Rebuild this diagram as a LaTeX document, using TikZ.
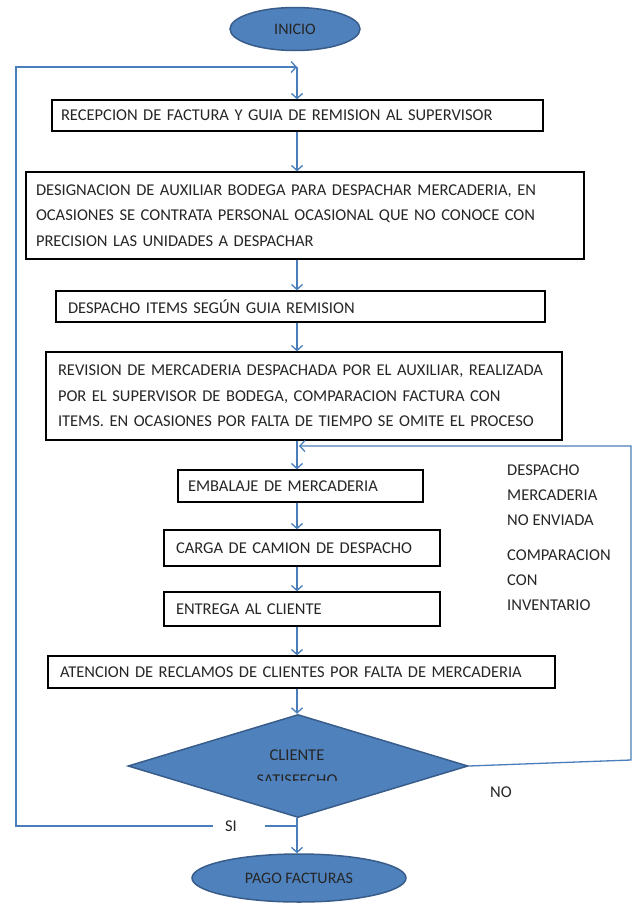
\documentclass[tikz,border=0pt]{standalone}
\usepackage{fontspec}
\setmainfont{Carlito}
\usetikzlibrary{shapes.geometric,arrows.meta}
\definecolor{boxblue}{HTML}{4F81BD}
\definecolor{boxedge}{HTML}{385D8A}
\definecolor{linkblue}{HTML}{4A7EBB}
\tikzset{
	proc/.style = {draw = black, line width = 1.3pt, fill = white, align = left, inner ysep = 0pt, text = black!85, font = \fontsize{16.5}{25.5}\selectfont},
	term/.style = {ellipse, draw = boxedge, line width = 1.5pt, fill = boxblue, inner sep = 0pt, text = black!85, font = \fontsize{16}{18}\selectfont},
	flow/.style = {draw = linkblue, line width = 1.3pt},
	arr/.style = {flow, -{Straight Barb[length=5pt, width=11pt]}},
	lbl/.style = {align = left, inner sep = 0pt, text = black!85, font = \fontsize{16.5}{25}\selectfont}
}
\begin{document}
\begin{tikzpicture}[x = 1pt, y = -1pt]
	\useasboundingbox [fill = white] (0,0) rectangle (633,905);
	% terminals
	\node [term, minimum width = 130pt, minimum height = 43pt] (ini) at (295,29) {INICIO};
	\node [term, minimum width = 214pt, minimum height = 48pt] (pago) at (299,878) {PAGO FACTURAS};
	% process boxes
	\node [proc, inner xsep = 9pt, text width = 473pt, minimum height = 31pt] (recep) at (297.5,115.5) {RECEPCION DE FACTURA Y GUIA DE REMISION AL SUPERVISOR};
	\node [proc, inner xsep = 10pt, text width = 538pt, minimum height = 87pt] (desig) at (305,215.5) {DESIGNACION DE AUXILIAR BODEGA PARA DESPACHAR MERCADERIA, EN\\OCASIONES SE CONTRATA PERSONAL OCASIONAL QUE NO CONOCE CON\\PRECISION LAS UNIDADES A DESPACHAR};
	\node [proc, inner xsep = 12pt, text width = 465pt, minimum height = 31pt] (desp) at (300.5,306.5) {DESPACHO ITEMS SEGÚN GUIA REMISION};
	\node [proc, inner xsep = 12pt, text width = 492pt, minimum height = 88pt] (revis) at (304,396) {REVISION DE MERCADERIA DESPACHADA POR EL AUXILIAR, REALIZADA\\POR EL SUPERVISOR DE BODEGA, COMPARACION FACTURA CON\\ITEMS. EN OCASIONES POR FALTA DE TIEMPO SE OMITE EL PROCESO};
	\node [proc, inner xsep = 10pt, text width = 225pt, minimum height = 32pt] (emb) at (300.5,486) {EMBALAJE DE MERCADERIA};
	\node [proc, inner xsep = 12pt, text width = 252pt, minimum height = 36pt] (carga) at (302,548) {CARGA DE CAMION DE DESPACHO};
	\node [proc, inner xsep = 12pt, text width = 252pt, minimum height = 34pt] (entr) at (302,609) {ENTREGA AL CLIENTE};
	\node [proc, inner xsep = 12pt, text width = 483pt, minimum height = 32pt] (recl) at (301.5,672) {ATENCION DE RECLAMOS DE CLIENTES POR FALTA DE MERCADERIA};
	% decision
	\node [diamond, draw = boxedge, line width = 1.5pt, fill = boxblue, minimum width = 340pt, minimum height = 103pt, inner sep = 0pt] (sat) at (298,766) {};
	\begin{scope}
		\clip (150,700) rectangle (450,780);
		\node [lbl, align = center] (satx) at (297,768) {CLIENTE\\SATISFECHO};
	\end{scope}
	% loop points
	\coordinate (loop) at (297,67);
	\coordinate (lefttop) at (16,67);
	\coordinate (leftbot) at (16,826);
	\coordinate (siend) at (265,826);
	\coordinate (sistart) at (213,826);
	\coordinate (spsi) at (297,826);
	\coordinate (noright) at (631,760);
	\coordinate (notop) at (631,446);
	\coordinate (noend) at (299,446);
	% main flow
	\draw [arr] (loop) -- (recep.north -| loop);
	\draw [arr] (recep.south -| loop) -- (desig.north -| loop);
	\draw [arr] (desig.south -| loop) -- (desp.north -| loop);
	\draw [arr] (desp.south -| loop) -- (revis.north -| loop);
	\draw [arr] (revis.south -| loop) -- (emb.north -| loop);
	\draw [arr] (emb.south -| loop) -- (carga.north -| loop);
	\draw [arr] (carga.south -| loop) -- (entr.north -| loop);
	\draw [arr] (entr.south -| loop) -- (recl.north -| loop);
	\draw [arr] (recl.south -| loop) -- (sat.north -| loop);
	\draw [arr] (sat.south -| loop) -- (pago.north -| loop);
	% SI branch
	\draw [flow] (spsi) -- (siend);
	\draw [arr] (sistart) -- (leftbot) -- (lefttop) -- (loop);
	\node [lbl] (si) at (231,826) {SI};
	% NO branch
	\draw [arr] (sat.east) -- (noright) -- (notop) -- (noend);
	\node [lbl] (no) at (501,792) {NO};
	\node [lbl, anchor = west] (noenv) at (507,495) {DESPACHO\\MERCADERIA\\NO ENVIADA};
	\node [lbl, anchor = west] (comp) at (507,580) {COMPARACION\\CON\\INVENTARIO};
\end{tikzpicture}
\end{document}
